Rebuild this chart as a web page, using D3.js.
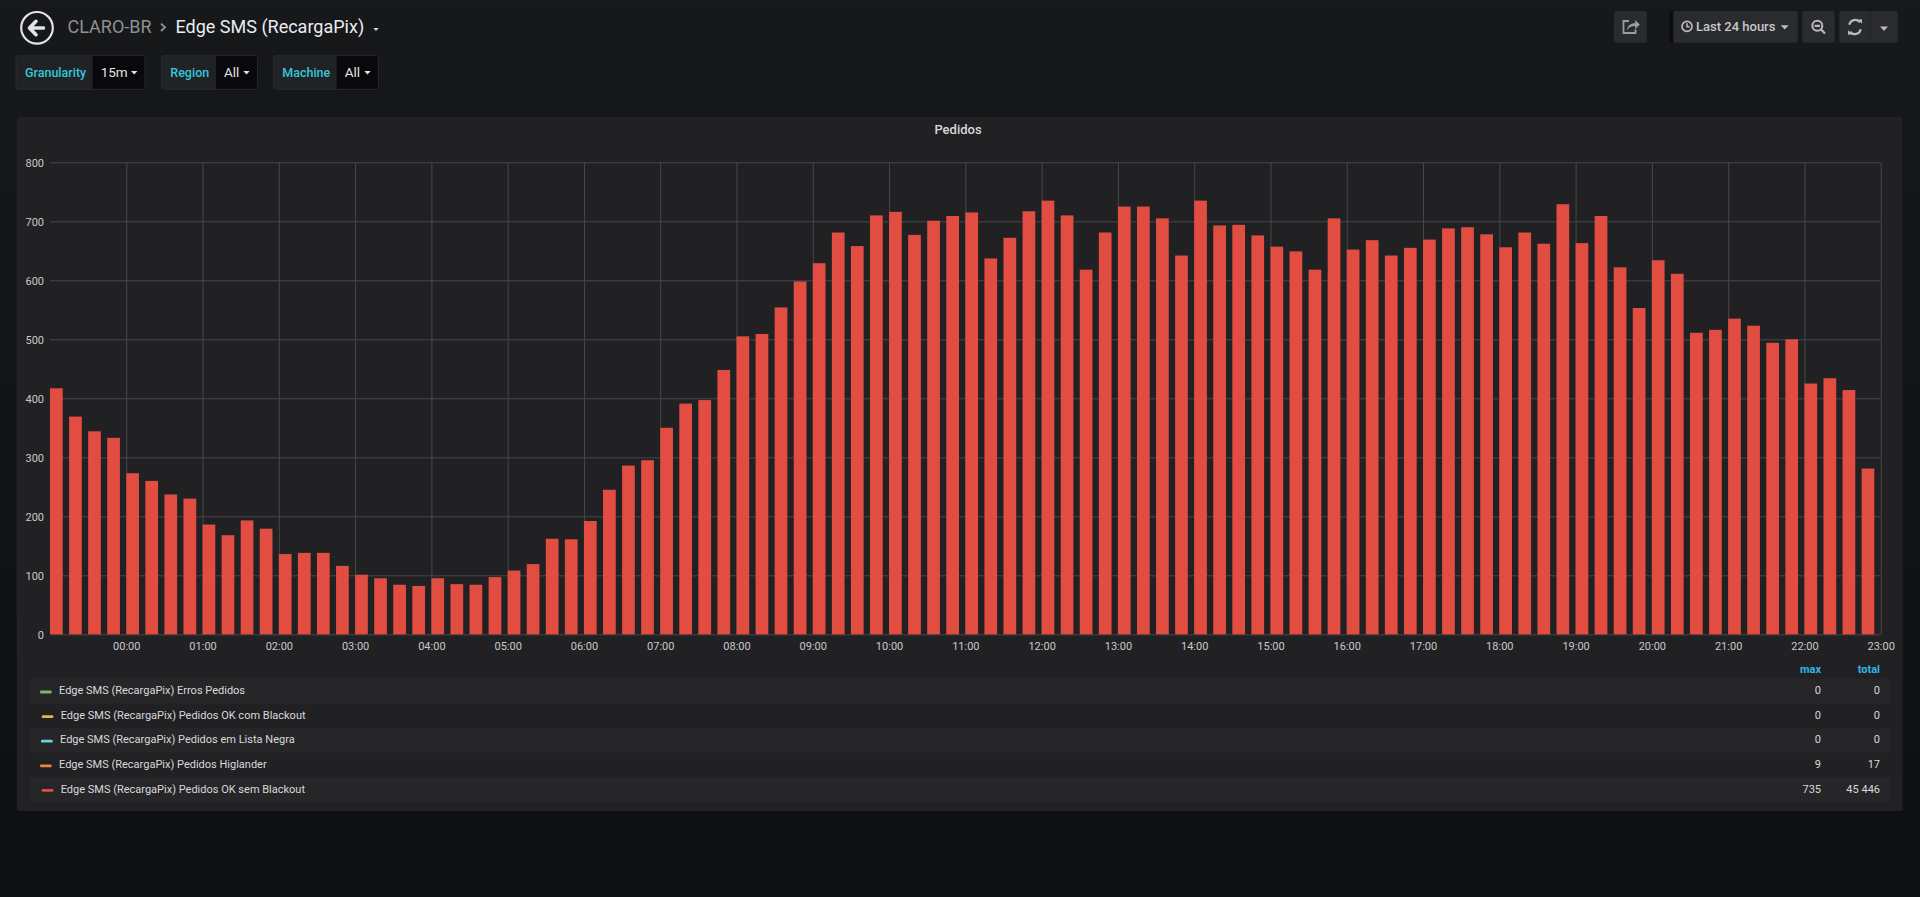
<!DOCTYPE html>
<html>
<head>
<meta charset="utf-8">
<title>Edge SMS (RecargaPix)</title>
<script src="https://cdn.jsdelivr.net/npm/d3@7"></script>
<style>
  html, body { margin: 0; padding: 0; background: #111214; overflow: hidden; }
  svg { display: block; font-family: Roboto, "Noto Sans", sans-serif; }
</style>
</head>
<body>
<svg id="dash" width="1920" height="897"></svg>
<script>
// ---- data ---------------------------------------------------------------
var firstBucket = '23:00';            // first 15m bucket, previous day
var hourLabels = ['00:00', '01:00', '02:00', '03:00', '04:00', '05:00', '06:00', '07:00',
  '08:00', '09:00', '10:00', '11:00', '12:00', '13:00', '14:00', '15:00', '16:00', '17:00',
  '18:00', '19:00', '20:00', '21:00', '22:00', '23:00'];
var yTicks = [0, 100, 200, 300, 400, 500, 600, 700, 800];

// Pedidos OK sem Blackout, one value per 15 minutes (23:00 .. 22:45)
var pedidosOk = [
  417, 369, 344, 333, 273, 260, 237, 230, 186, 168, 193, 179,
  136, 138, 138, 116, 101, 95, 84, 82, 95, 85, 84, 97,
  108, 119, 162, 161, 192, 245, 286, 295, 350, 391, 397, 448,
  505, 509, 554, 598, 629, 681, 658, 710, 716, 677, 701, 709,
  715, 637, 672, 717, 735, 710, 618, 681, 725, 725, 705, 642,
  735, 693, 694, 676, 657, 649, 618, 705, 652, 668, 642, 655,
  669, 688, 690, 678, 656, 681, 662, 729, 663, 709, 622, 553,
  634, 611, 511, 516, 535, 523, 494, 500, 425, 434, 414, 281
];

var legendNames = [
  'Edge SMS (RecargaPix) Erros Pedidos',
  'Edge SMS (RecargaPix) Pedidos OK com Blackout',
  'Edge SMS (RecargaPix) Pedidos em Lista Negra',
  'Edge SMS (RecargaPix) Pedidos Higlander',
  'Edge SMS (RecargaPix) Pedidos OK sem Blackout'
];
var legendColors = ['#7eb26d', '#eab839', '#6ed0e0', '#ef843c', '#e24d42'];
var legendMax = [0, 0, 0, 9, 735];
var legendTotal = [0, 0, 0, 17, 45446];

var variables = [
  { name: 'Granularity', value: '15m' },
  { name: 'Region', value: 'All' },
  { name: 'Machine', value: 'All' }
];

// ---- helpers ----------------------------------------------------------------
var svg = d3.select('#dash');

function txt(parent, x, y, s, o) {
  o = o || {};
  return parent.append('text')
    .attr('x', x).attr('y', y)
    .attr('font-size', o.size || 12)
    .attr('font-weight', o.weight || 400)
    .attr('text-anchor', o.anchor || 'start')
    .attr('fill', o.fill || '#d8d9da')
    .text(s);
}

function caret(parent, x, y, w, fill) {
  parent.append('path')
    .attr('d', 'M' + x + ',' + y + 'h' + w + 'l' + (-w / 2) + ',' + (w * 0.55) + 'z')
    .attr('fill', fill);
}

var fmtNum = d3.formatLocale({ decimal: ',', thousands: ' ', grouping: [3], currency: ['', ''] }).format(',');

// ---- page background ---------------------------------------------------------
var defs = svg.append('defs');
var bg = defs.append('linearGradient').attr('id', 'pagebg').attr('x1', 0).attr('y1', 0).attr('x2', 0).attr('y2', 1);
bg.append('stop').attr('offset', '0%').attr('stop-color', '#17181a');
bg.append('stop').attr('offset', '100%').attr('stop-color', '#0e0f11');
svg.append('rect').attr('width', 1920).attr('height', 897).attr('fill', 'url(#pagebg)');

// ---- top navbar --------------------------------------------------------------
var nav = svg.append('g');
nav.append('circle').attr('cx', 37).attr('cy', 27.8).attr('r', 15.8)
  .attr('fill', 'none').attr('stroke', '#e3e4e5').attr('stroke-width', 2.2);
nav.append('path').attr('d', 'M30,28 H43.5 M36,21.3 L29.5,28 L36,34.7')
  .attr('fill', 'none').attr('stroke', '#e3e4e5').attr('stroke-width', 3.6)
  .attr('stroke-linecap', 'round').attr('stroke-linejoin', 'round');

txt(nav, 67.5, 32.8, 'CLARO-BR', { size: 18, fill: '#8f9092' });
nav.append('path').attr('d', 'M161,23.6 L165,27.3 L161,31')
  .attr('fill', 'none').attr('stroke', '#8f9092').attr('stroke-width', 1.9);
txt(nav, 175.5, 32.8, 'Edge SMS (RecargaPix)', { size: 18, fill: '#e9edf2' });
caret(nav, 373.3, 28, 5.4, '#d8d9da');

// right side buttons
var btnFill = '#2a2b2e';
nav.append('rect').attr('x', 1614).attr('y', 11).attr('width', 32.7).attr('height', 31.7).attr('rx', 2).attr('fill', btnFill);
nav.append('path').attr('d', 'M1629,21 h-5.5 v12 h12 v-3.5')
  .attr('fill', 'none').attr('stroke', '#9a9ca1').attr('stroke-width', 1.8);
nav.append('path').attr('d', 'M1627,30.5 c0.5,-5 3.5,-7.2 8.2,-7.2 v-3.3 l4.6,4.6 l-4.6,4.6 v-3.2 c-3.8,0 -6.5,1.2 -8.2,4.5 z')
  .attr('fill', '#9a9ca1');

nav.append('rect').attr('x', 1669.3).attr('y', 11).attr('width', 4.2).attr('height', 31.7).attr('fill', '#0c0d0f');
nav.append('rect').attr('x', 1673.3).attr('y', 11).attr('width', 124.4).attr('height', 31.7).attr('rx', 2).attr('fill', btnFill);
nav.append('circle').attr('cx', 1687).attr('cy', 26.4).attr('r', 5).attr('fill', 'none')
  .attr('stroke', '#b9babd').attr('stroke-width', 1.7);
nav.append('path').attr('d', 'M1687,23.3 v3.4 h2.6').attr('fill', 'none')
  .attr('stroke', '#b9babd').attr('stroke-width', 1.5);
txt(nav, 1696, 31.3, 'Last 24 hours', { size: 13, weight: 500, fill: '#c7c8ca' });
caret(nav, 1780.7, 25.2, 8, '#b9babd');

nav.append('rect').attr('x', 1802.3).attr('y', 11).attr('width', 32.4).attr('height', 31.7).attr('rx', 2).attr('fill', btnFill);
nav.append('circle').attr('cx', 1817.3).attr('cy', 25.8).attr('r', 5).attr('fill', 'none')
  .attr('stroke', '#b9babd').attr('stroke-width', 2);
nav.append('path').attr('d', 'M1820.8,29.3 L1825,33.5 M1814.6,25.8 h5.4').attr('fill', 'none')
  .attr('stroke', '#b9babd').attr('stroke-width', 2.2);

nav.append('rect').attr('x', 1839.3).attr('y', 11).attr('width', 58.4).attr('height', 31.7).attr('rx', 2).attr('fill', btnFill);
nav.append('line').attr('x1', 1870.3).attr('x2', 1870.3).attr('y1', 11).attr('y2', 42.7).attr('stroke', '#222326');
nav.append('path').attr('d', 'M1849.3,24.8 a6,6 0 0 1 10.6,-2.6 M1860.7,29.2 a6,6 0 0 1 -10.6,2.6')
  .attr('fill', 'none').attr('stroke', '#b9babd').attr('stroke-width', 2.2);
nav.append('path').attr('d', 'M1857.6,19.8 l4.4,-0.6 l0,4.6 z M1852.4,34.2 l-4.4,0.6 l0,-4.6 z').attr('fill', '#b9babd');
caret(nav, 1880, 26.5, 8, '#b9babd');

// ---- template variables ------------------------------------------------------
var varBoxes = [
  { x: 16, split: 92.7, end: 145 },
  { x: 161.3, split: 216, end: 257.3 },
  { x: 273.3, split: 336.7, end: 378.3 }
];
var vars = svg.append('g');
variables.forEach(function(v, i) {
  var b = varBoxes[i];
  vars.append('rect').attr('x', b.x).attr('y', 55.7).attr('width', b.end - b.x).attr('height', 33.6)
    .attr('rx', 2).attr('fill', '#202225').attr('stroke', '#292a2d');
  vars.append('rect').attr('x', b.split).attr('y', 56.2).attr('width', b.end - b.split - 0.5).attr('height', 32.6)
    .attr('fill', '#09090b');
  txt(vars, b.x + 9, 76.7, v.name, { size: 12.5, weight: 500, fill: '#33c6de' });
  txt(vars, b.split + 8, 76.7, v.value, { size: 13.5, fill: '#e4e5e6' });
  caret(vars, b.end - 14, 71, 6.4, '#e4e5e6');
});

// ---- panel -------------------------------------------------------------------
var panel = svg.append('g');
panel.append('rect').attr('x', 16.7).attr('y', 117).attr('width', 1886).attr('height', 694)
  .attr('rx', 2).attr('fill', '#212124');
txt(panel, 958, 134.3, 'Pedidos', { size: 13, weight: 500, anchor: 'middle', fill: '#d8d9da' });

var plot = { left: 50, right: 1880.7, top: 162.3, bottom: 634.3 };

function parseHM(day, s) {
  return new Date(2021, 0, day, +s.slice(0, 2), +s.slice(3, 5));
}
var t0 = parseHM(1, firstBucket);
var bars = pedidosOk.map(function(v, i) {
  return { t: d3.timeMinute.offset(t0, 15 * i), v: v };
});
var tickTimes = hourLabels.map(function(s) { return parseHM(2, s); });

var x = d3.scaleTime()
  .domain([t0, d3.timeHour.offset(t0, 24)])
  .range([plot.left, plot.right]);
var y = d3.scaleLinear()
  .domain([0, 800])
  .range([plot.bottom, plot.top]);

var gridColor = '#48484b';

// grid
var gx = panel.append('g').attr('transform', 'translate(0,' + plot.bottom + ')')
  .call(d3.axisBottom(x).tickValues(tickTimes).tickSize(-(plot.bottom - plot.top)).tickFormat(''));
var gy = panel.append('g').attr('transform', 'translate(' + plot.left + ',0)')
  .call(d3.axisLeft(y).tickValues(yTicks).tickSize(-(plot.right - plot.left)).tickFormat(''));
[gx, gy].forEach(function(g) {
  g.select('.domain').remove();
  g.selectAll('line').attr('stroke', gridColor).attr('stroke-width', 1);
});

// bars
panel.append('g').selectAll('rect').data(bars).enter().append('rect')
  .attr('x', function(d) { return x(d.t); })
  .attr('width', function(d) { return x(d3.timeMinute.offset(d.t, 10)) - x(d.t); })
  .attr('y', function(d) { return y(d.v); })
  .attr('height', function(d) { return y(0) - y(d.v); })
  .attr('fill', '#e24d42');

// axis labels
var ax = panel.append('g').attr('transform', 'translate(0,' + plot.bottom + ')')
  .call(d3.axisBottom(x).tickValues(tickTimes).tickSize(0).tickFormat(d3.timeFormat('%H:%M')));
ax.selectAll('text').attr('y', 16.2).attr('dy', null);

var ay = panel.append('g').attr('transform', 'translate(' + plot.left + ',0)')
  .call(d3.axisLeft(y).tickValues(yTicks).tickSize(0).tickPadding(6));
ay.selectAll('text').attr('dy', null).attr('y', 3.9);

[ax, ay].forEach(function(g) {
  g.select('.domain').remove();
  g.selectAll('text').attr('fill', '#c8c9ca').attr('font-size', 11)
    .attr('font-family', 'Roboto, "Noto Sans", sans-serif');
});

// ---- legend table -------------------------------------------------------------
var legend = panel.append('g');
var rowTop = 679, rowH = 24.6, colMax = 1821, colTotal = 1880;
var nameShift = [0, 1.7, 1, 0, 1.7];
txt(legend, colMax, 673.3, 'max', { size: 11, weight: 700, anchor: 'end', fill: '#33b5e5' });
txt(legend, colTotal, 673.3, 'total', { size: 11, weight: 700, anchor: 'end', fill: '#33b5e5' });

legendNames.forEach(function(name, i) {
  var top = rowTop + i * rowH, base = top + 15.2;
  if (i % 2 === 0) {
    legend.append('rect').attr('x', 30).attr('y', top).attr('width', 1860).attr('height', rowH)
      .attr('fill', '#262628');
  }
  legend.append('rect').attr('x', 40 + nameShift[i]).attr('y', base - 3.6).attr('width', 11.7).attr('height', 2.8)
    .attr('rx', 1.2).attr('fill', legendColors[i]);
  txt(legend, 59 + nameShift[i], base, name, { size: 11, fill: '#d8d9da' });
  txt(legend, colMax, base, fmtNum(legendMax[i]), { size: 11, anchor: 'end', fill: '#d8d9da' });
  txt(legend, colTotal, base, fmtNum(legendTotal[i]), { size: 11, anchor: 'end', fill: '#d8d9da' });
});
</script>
</body>
</html>
